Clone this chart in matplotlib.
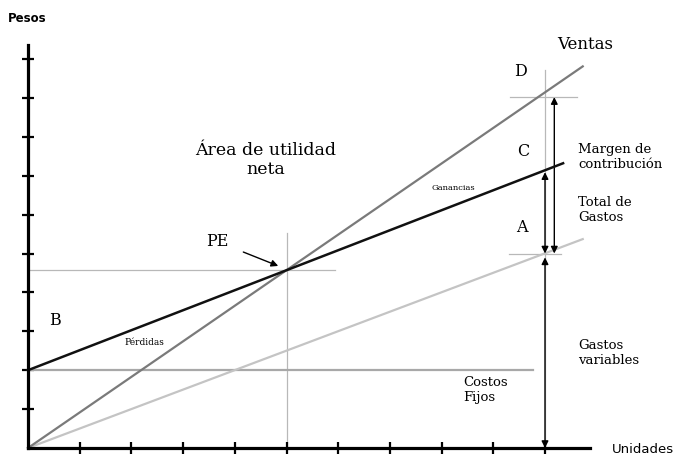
import matplotlib
matplotlib.use("Agg")
import matplotlib.pyplot as plt

# punto de equilibrio (PE)
pe_units = 5.0
pe_pesos = 4.57

# rectas (x inicio/fin, y inicio/fin)
ventas_x = [0, 10.73]
ventas_y = [0, 9.81]
total_x = [0, 10.35]
total_y = [2.0, 7.32]
variables_x = [0, 10.73]
variables_y = [0, 5.37]
fijos_x = [0, 9.77]
fijos_y = [2.0, 2.0]

# valores en la unidad de referencia (flechas)
ref_units = 10
ref_ventas = 9.02
ref_total = 7.14
ref_variables = 5.0

x_ticks = list(range(1, 11))
y_ticks = list(range(1, 11))

serif = "DejaVu Serif"

fig = plt.figure(figsize=(6.93, 4.59), dpi=100)
ax = fig.add_axes([0, 0, 1, 1])
ax.set_xlim(-28 / 51.7, (693 - 28) / 51.7)
ax.set_ylim(-(459 - 448) / 38.9, 448 / 38.9)

# ejes
for side in ["top", "right"]:
    ax.spines[side].set_visible(False)
ax.spines["left"].set_position(("data", 0))
ax.spines["bottom"].set_position(("data", 0))
ax.spines["left"].set_bounds(0, 10.36)
ax.spines["bottom"].set_bounds(0, 10.87)
for side in ["left", "bottom"]:
    ax.spines[side].set_linewidth(2.3)
    ax.spines[side].set_zorder(5)
ax.set_xticks(x_ticks)
ax.set_yticks(y_ticks)
ax.tick_params(direction="inout", length=9, width=1.6, labelleft=False, labelbottom=False)

# guias
guide = "#b8b8b8"
ax.plot([0, 5.94], [pe_pesos, pe_pesos], color=guide, lw=0.9, zorder=1)
ax.plot([pe_units, pe_units], [0, 5.53], color=guide, lw=0.9, zorder=1)
ax.plot([ref_units, ref_units], [0, 9.72], color=guide, lw=0.9, zorder=1)
ax.plot([9.32, 10.62], [ref_ventas, ref_ventas], color=guide, lw=0.9, zorder=1)
ax.plot([9.3, 10.3], [ref_variables, ref_variables], color=guide, lw=0.9, zorder=1)

# rectas
ax.plot(fijos_x, fijos_y, color="#a8a8a8", lw=1.6, zorder=2)
ax.plot(variables_x, variables_y, color="#c4c4c4", lw=1.6, zorder=2)
ax.plot(ventas_x, ventas_y, color="#7a7a7a", lw=1.6, zorder=3)
ax.plot(total_x, total_y, color="#111111", lw=1.8, zorder=4)

# flechas
arr = dict(arrowstyle="<|-|>", color="black", lw=1.0, mutation_scale=10, shrinkA=0, shrinkB=0)
ax.annotate("", xy=(10.18, ref_ventas), xytext=(10.18, ref_variables), arrowprops=arr)
ax.annotate("", xy=(ref_units, ref_total - 0.05), xytext=(ref_units, ref_variables), arrowprops=arr)
ax.annotate("", xy=(ref_units, ref_variables - 0.1), xytext=(ref_units, 0), arrowprops=arr)

# textos
ax.text(-0.39, 11.05, "Pesos", fontsize=8.5, fontweight="bold", family="DejaVu Sans", va="center")
ax.text(11.30, -0.03, "Unidades", fontsize=9.5, family="DejaVu Sans", va="center")
ax.text(10.23, 10.36, "Ventas", fontsize=12, family=serif, va="center")
for label, lx, ly in [("D", 9.52, 9.67), ("C", 9.57, 7.61), ("A", 9.55, 5.66), ("B", 0.52, 3.29)]:
    ax.text(lx, ly, label, fontsize=11.5, family=serif, ha="center", va="center")
ax.text(10.64, 7.48, "Margen de\ncontribución", fontsize=9.5, family=serif, va="center", linespacing=1.2)
ax.text(10.64, 6.12, "Total de\nGastos", fontsize=9.5, family=serif, va="center", linespacing=1.2)
ax.text(10.64, 2.44, "Gastos\nvariables", fontsize=9.5, family=serif, va="center", linespacing=1.2)
ax.text(8.41, 1.49, "Costos\nFijos", fontsize=9.5, family=serif, va="center", linespacing=1.2)
ax.text(4.60, 7.40, "Área de utilidad\nneta", fontsize=12.5, family=serif, ha="center", va="center", linespacing=1.1)
ax.text(8.22, 6.68, "Ganancias", fontsize=6, family=serif, ha="center", va="center")
ax.text(2.26, 2.70, "Pérdidas", fontsize=6.5, family=serif, ha="center", va="center")
ax.annotate("PE", xy=(4.84, 4.68), xytext=(3.67, 5.30), fontsize=11.5, family=serif,
            ha="center", va="center",
            arrowprops=dict(arrowstyle="-|>", color="black", lw=1.0, mutation_scale=10,
                            shrinkA=9, shrinkB=0))

fig.savefig("out.png", dpi=100)
